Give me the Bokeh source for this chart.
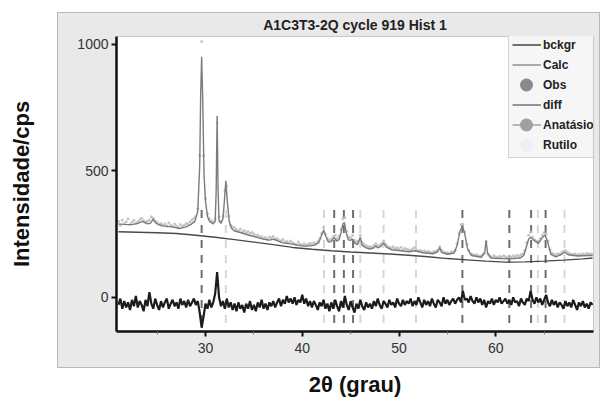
import numpy as np
from bokeh.plotting import figure
from bokeh.models import (Range1d, FixedTicker, Legend, LegendItem)
from bokeh.embed import file_html
from bokeh.resources import INLINE

# ---------------- data ----------------
title_text = "A1C3T3-2Q cycle 919 Hist 1"
x_label = "2θ (grau)"
y_label = "Intensidade/cps"
x_ticks = [30, 40, 50, 60]
x_minor = [25, 35, 45, 55, 65]
y_ticks = [0, 500, 1000]

# calculated profile (key points)
calc_x = [21.0, 21.5, 22.0, 22.5, 23.0, 23.5, 24.0, 24.3, 24.6, 24.9, 25.5, 26.5,
          27.4, 28.0, 28.5, 28.9, 29.2, 29.4, 29.5, 29.6, 29.7, 29.85, 30.0, 30.2,
          30.4, 30.8, 31.0, 31.1, 31.2, 31.3, 31.4, 31.6, 31.8, 31.95, 32.1, 32.25,
          32.45, 32.7, 33.0, 33.6, 34.5, 35.5, 36.0, 36.6, 37.1, 37.5, 38.0, 38.8,
          39.8, 40.5, 41.2, 41.7, 42.0, 42.2, 42.45, 42.7, 43.0, 43.3, 43.55, 43.8,
          44.0, 44.2, 44.35, 44.55, 44.75, 44.95, 45.2, 45.4, 45.7, 46.0, 46.2, 46.6,
          47.0, 47.4, 47.6, 47.8, 48.1, 48.4, 48.7, 49.2, 50.2, 51.0, 51.7, 52.5,
          53.5, 54.0, 54.2, 54.4, 55.0, 55.7, 56.0, 56.3, 56.55, 56.8, 57.1, 57.5,
          58.5, 58.85, 59.0, 59.15, 59.5, 60.5, 61.5, 62.5, 62.9, 63.1, 63.4, 63.6,
          63.85, 64.4, 64.8, 65.1, 65.35, 65.7, 66.2, 66.8, 67.1, 67.5, 68.5, 69.5,
          70.0]
calc_y = [290, 288, 287, 288, 292, 300, 290, 292, 309, 292, 282, 278,
          272, 278, 288, 300, 340, 520, 800, 950, 800, 480, 380, 320,
          300, 290, 300, 420, 717, 420, 300, 292, 310, 380, 460, 380,
          300, 272, 262, 256, 245, 235, 230, 226, 230, 222, 215, 211,
          204, 202, 205, 215, 245, 265, 240, 218, 220, 237, 222, 228,
          255, 290, 296, 255, 228, 225, 230, 215, 208, 237, 205, 195,
          191, 195, 204, 195, 200, 215, 198, 188, 184, 180, 184, 176,
          172, 180, 197, 178, 170, 175, 205, 260, 283, 250, 190, 165,
          158, 175, 224, 175, 155, 153, 152, 155, 165, 192, 230, 237,
          228, 213, 235, 246, 220, 170, 160, 170, 178, 168, 163, 165,
          165]

# background (key points)
bckgr_x = [21, 23, 25, 27, 29, 31, 33, 35, 37, 39, 41, 43, 45, 47, 49, 51, 53,
           55, 57, 59, 61, 63, 65, 67, 69, 70]
bckgr_y = [259, 257, 255, 252, 245, 237, 228, 218, 208, 197, 190, 184, 179,
           175, 171, 166, 160, 153, 148, 143, 139, 140, 143, 147, 152, 155]

# observed intensities and difference on a 0.2 deg step grid starting at 21.0
grid_start = 21.0
grid_step = 0.2
obs_y = [300, 285, 305, 292, 298, 310, 288, 296, 304, 292,
         298, 306, 312, 302, 296, 300, 305, 318, 312, 300,
         296, 288, 292, 285, 290, 282, 294, 286, 280, 290,
         282, 275, 288, 280, 285, 292, 290, 298, 305, 312,
         320, 350, 560, 1010, 560, 390, 330, 310, 302, 298,
         310, 690, 318, 300, 320, 420, 440, 320, 285, 278,
         275, 268, 262, 270, 258, 264, 255, 260, 252, 256,
         250, 242, 246, 238, 240, 232, 236, 228, 238, 234,
         240, 228, 232, 225, 222, 228, 218, 220, 215, 222,
         215, 212, 208, 218, 210, 206, 212, 205, 210, 214,
         210, 215, 212, 220, 232, 252, 275, 250, 232, 225,
         230, 240, 245, 232, 242, 268, 310, 315, 260, 238,
         235, 245, 225, 218, 222, 245, 215, 208, 205, 200,
         200, 198, 205, 212, 203, 206, 212, 222, 210, 202,
         198, 194, 200, 192, 196, 190, 198, 188, 194, 190,
         188, 185, 192, 196, 188, 182, 186, 180, 184, 178,
         182, 178, 176, 180, 182, 186, 200, 186, 178, 176,
         176, 174, 180, 178, 186, 212, 252, 288, 290, 258,
         210, 185, 172, 170, 166, 168, 164, 162, 168, 175,
         220, 170, 162, 158, 165, 160, 156, 162, 158, 164,
         160, 156, 162, 158, 164, 160, 166, 162, 168, 172,
         185, 215, 245, 258, 238, 228, 220, 222, 232, 245,
         255, 250, 222, 188, 175, 170, 168, 172, 170, 176,
         182, 185, 178, 172, 170, 168, 172, 166, 170, 168,
         172, 168, 174, 170, 172, 168]
diff_y = [-30, -5, -45, -15, -40, -20, -50, -10, -35, 5,
          -40, -15, -30, -55, -10, -35, 20, -25, -45, -5,
          -30, -50, -15, -40, -20, -5, -45, -25, -10, -35,
          -20, -45, -5, -30, -15, -40, -10, -35, -20, -5,
          -30, -15, -60, -120, -75, -25, -45, -10, -40, -20,
          15, 100, 0, -35, -15, -45, -5, -40, -20, -50,
          -25, -55, -20, -45, -30, -60, -25, -45, -15, -50,
          -30, -55, -20, -40, -10, -45, -25, -50, -20, -35,
          -15, -40, -20, -5, -35, -10, -25, 5, -20, -5,
          -25, 0, -30, -10, -20, 10, -25, -5, -35, -15,
          -40, -15, -30, -50, -20, -35, -10, -45, -25, -55,
          -20, -45, -10, -35, -55, -15, -40, 5, -30, -50,
          -15, -40, -60, -25, -45, -10, -35, -50, -20, -40,
          -25, -45, -15, -35, -5, -30, -45, -15, -25, -40,
          -10, -30, -20, -40, -5, -25, -35, -10, -30, -15,
          -25, -5, -35, -15, -30, 0, -20, -40, -10, -30,
          -15, -35, -5, -25, -40, -10, -20, -35, 0, -25,
          -10, -30, -15, -5, -25, -10, 0, -20, 25, -10,
          -5, -20, 5, -15, -25, 0, -20, -5, -30, -10,
          -40, -15, -25, -5, -30, -10, -20, 0, -25, -15,
          -5, -25, -10, -30, 0, -20, -15, -35, -5, -20,
          -30, -5, -15, 25, -10, -25, 0, -20, -5, -30,
          -10, 10, -20, -35, -10, -30, -15, -40, -20, -30,
          -45, -15, -35, -20, -40, -10, -30, -50, -20, -35,
          -15, -40, -25, -45, -20, -30]

# reflection positions
anatase_pos = [29.6, 43.3, 44.3, 45.25, 56.55, 61.4, 63.65, 65.15]
rutile_pos = [32.1, 42.25, 46.0, 48.4, 51.75, 64.35, 67.1]

# ---------------- figure ----------------
FONT = "Liberation Sans"
grid_x = np.round(grid_start + grid_step * np.arange(len(obs_y)), 2)

p = figure(width=601, height=406, output_backend="svg", toolbar_location=None,
           x_range=Range1d(20.8, 70.1), y_range=Range1d(-135, 1030),
           min_border_left=116, min_border_right=8, min_border_top=36,
           min_border_bottom=75)
# transparent border so a CSS-drawn gray panel shows behind the axes
p.border_fill_color = None
p.background_fill_color = "white"
p.outline_line_color = "#c8c8c8"
p.grid.visible = False
p.styles = {
    "background-color": "white",
    "background-image": "linear-gradient(#e9e9e9, #e9e9e9), "
                        "linear-gradient(#b8b8b8, #b8b8b8)",
    "background-size": "541px 354px, 543px 356px",
    "background-position": "58px 13px, 57px 12px",
    "background-repeat": "no-repeat",
}

# title
p.title.text = title_text
p.title.align = "center"
p.title.text_font = FONT
p.title.text_font_size = "14px"
p.title.text_font_style = "bold"
p.title.text_color = "#222222"
p.title.standoff = 8

# reflection ticks
tick_top, tick_bottom = 345, -125
p.segment(x0=rutile_pos, x1=rutile_pos, y0=[tick_top] * len(rutile_pos),
          y1=[tick_bottom] * len(rutile_pos), line_color="#d6d6d6",
          line_width=2, line_dash="8 7")
p.segment(x0=anatase_pos, x1=anatase_pos, y0=[tick_top] * len(anatase_pos),
          y1=[tick_bottom] * len(anatase_pos), line_color="#6e6e6e",
          line_width=2, line_dash="8 7")

# observed, background, calc, diff
p.scatter(grid_x, obs_y, size=3, fill_color="#bcbcbc", line_color=None,
          fill_alpha=0.85)
p.line(bckgr_x, bckgr_y, line_color="#4a4a4a", line_width=1.4)
p.line(calc_x, calc_y, line_color="#7c7c7c", line_width=1.4)
p.line(grid_x, diff_y, line_color="#1c1c1c", line_width=2.2)

# legend-only proxies (NaN data: nothing drawn in the plot)
nan = [float("nan")]


def legend_dot(color):
    # a round-capped zero-length dash gives a large dot in the legend swatch
    return p.line(x=nan, y=nan, line_color=color, line_width=13,
                  line_cap="round", line_dash="0 100", line_dash_offset=86)


lg_bck = p.line(x=nan, y=nan, line_color="#3a3a3a", line_width=1.4)
lg_calc = p.line(x=nan, y=nan, line_color="#8a8a8a", line_width=1.4)
lg_obs = legend_dot("#8a8a8a")
lg_diff = p.line(x=nan, y=nan, line_color="#6a6a6a", line_width=1.4)
lg_an_line = p.line(x=nan, y=nan, line_color="#a0a0a0", line_width=1.4)
lg_an_dot = legend_dot("#a0a0a0")
lg_ru_dot = legend_dot("#efefef")

legend = Legend(items=[
    LegendItem(label="bckgr", renderers=[lg_bck]),
    LegendItem(label="Calc", renderers=[lg_calc]),
    LegendItem(label="Obs", renderers=[lg_obs]),
    LegendItem(label="diff", renderers=[lg_diff]),
    LegendItem(label="Anatásio", renderers=[lg_an_line, lg_an_dot]),
    LegendItem(label="Rutilo", renderers=[lg_ru_dot]),
], location=(392, 173))
legend.label_text_font = FONT
legend.label_text_font_style = "bold"
legend.label_text_font_size = "12px"
legend.label_text_color = "#222222"
legend.glyph_width = 29
legend.glyph_height = 19
legend.label_height = 19
legend.label_standoff = 2
legend.spacing = 1
legend.padding = 3
legend.margin = 0
legend.background_fill_color = "#f6f6f6"
legend.background_fill_alpha = 1.0
legend.border_line_color = "#b0b0b0"
legend.border_line_width = 1
p.add_layout(legend)

# axes
xa = p.xaxis[0]
xa.ticker = FixedTicker(ticks=x_ticks, minor_ticks=x_minor)
ya = p.yaxis[0]
ya.ticker = FixedTicker(ticks=y_ticks, minor_ticks=[])
for ax in (xa, ya):
    ax.axis_line_color = "#111111"
    ax.axis_line_width = 2.5
    ax.major_tick_line_color = "#111111"
    ax.major_tick_line_width = 2
    ax.major_tick_out = 5
    ax.major_tick_in = 0
    ax.major_label_text_font = FONT
    ax.major_label_text_font_size = "14px"
    ax.major_label_text_color = "#333333"
    ax.axis_label_text_font = FONT
    ax.axis_label_text_font_size = "22px"
    ax.axis_label_text_font_style = "bold"
    ax.axis_label_text_color = "#111111"
xa.minor_tick_line_color = "#777777"
xa.minor_tick_out = 3
xa.minor_tick_in = 0
xa.major_label_standoff = 6
ya.minor_tick_line_color = None
ya.major_label_standoff = 3
xa.axis_label = x_label
ya.axis_label = y_label
xa.axis_label_standoff = 16
ya.axis_label_standoff = 40

open("out.html", "w").write(file_html(p, INLINE))
